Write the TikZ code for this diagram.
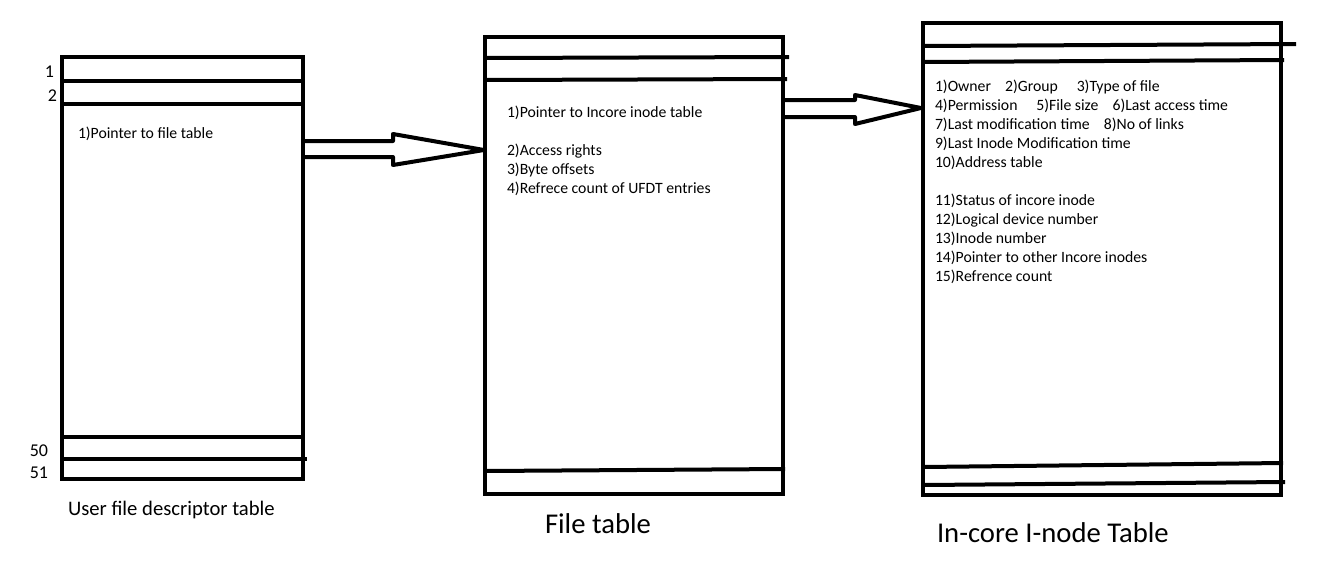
\documentclass[tikz,border=0pt]{standalone}
\usepackage{fontspec}
\setmainfont{Carlito}
\usepackage{tikz}
\usetikzlibrary{positioning}

\begin{document}
\begin{tikzpicture}[x=0.75pt, y=-0.75pt, line width=3pt,
        item/.style = {anchor=west, inner sep=0pt, font=\fontsize{11.8}{14}\selectfont},
        num/.style = {anchor=east, inner sep=0pt, font=\fontsize{13.5}{15}\selectfont},
        caption/.style = {anchor=west, inner sep=0pt}]
            \useasboundingbox (0,0) rectangle (1330,565);
            % Tables
            \draw (62,57) rectangle (303,479);
            \draw (62,81) -- (305,81);
            \draw (62,104) -- (303,104);
            \draw (62,437) -- (303,437);
            \draw (62,459) -- (307,459);
            \draw (485,37) rectangle (783,494);
            \draw (485,58) -- (789,57);
            \draw (485,80) -- (787,79);
            \draw (485,471) -- (785,469);
            \draw (923,23) rectangle (1281,495);
            \draw (923,46) -- (1296,44);
            \draw (923,62) -- (1284,60);
            \draw (923,467) -- (1283,463);
            \draw (923,485) -- (1285,482);
            % Row numbers
            \node[num] (r1) at (56,72) {1};
            \node[num] (r2) at (59,96) {2};
            \node[num] (r50) at (50,451) {50};
            \node[num] (r51) at (50,473) {51};
            % Entries
            \node[item] (ufdt1) at (76,134) {1)Pointer to file table};
            \node[item] (ft1) at (505,113) {1)Pointer to Incore inode table};
            \node[item] (ft2) at (505,151) {2)Access rights};
            \node[item] (ft3) at (505,170) {3)Byte offsets};
            \node[item] (ft4) at (505,189) {4)Refrece count of UFDT entries};
            \node[item] (in1) at (933,87) {1)Owner\hspace{0.9em}2)Group\hspace{1.2em}3)Type of file};
            \node[item] (in2) at (933,106) {4)Permission\hspace{1.2em}5)File size\hspace{0.9em}6)Last access time};
            \node[item] (in3) at (933,125) {7)Last modification time\hspace{0.9em}8)No of links};
            \node[item] (in4) at (933,144) {9)Last Inode Modification time};
            \node[item] (in5) at (933,163) {10)Address table};
            \node[item] (in6) at (933,201) {11)Status of incore inode};
            \node[item] (in7) at (933,220) {12)Logical device number};
            \node[item] (in8) at (933,239) {13)Inode number};
            \node[item] (in9) at (933,258) {14)Pointer to other Incore inodes};
            \node[item] (in10) at (933,277) {15)Refrence count};
            % Captions
            \node[caption, font=\fontsize{15.5}{18}\selectfont] (cap1) at (66,510) {User file descriptor table};
            \node[caption, font=\fontsize{21.5}{24}\selectfont] (cap2) at (543,524) {File table};
            \node[caption, font=\fontsize{21.5}{24}\selectfont] (cap3) at (935,533) {In-core I-node Table};
            % Arrows
            \draw[line join=round] (303,141) -- (393,141) -- (393,134) -- (484,150)
                -- (393,165) -- (393,157) -- (303,157);
            \draw[line join=round] (785,100) -- (855,100) -- (855,95) -- (921,108)
                -- (855,124) -- (855,117) -- (785,117);
\end{tikzpicture}
\end{document}
